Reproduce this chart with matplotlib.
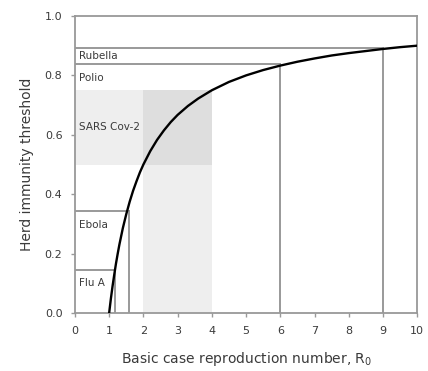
import matplotlib
matplotlib.use("Agg")
import matplotlib.pyplot as plt

# Curve
curve_r0 = [1.0, 1.05, 1.1, 1.15, 1.2, 1.25, 1.3, 1.4, 1.5, 1.6, 1.7, 1.8, 1.9, 2.0, 2.2, 2.4, 2.6,
            2.8, 3.0, 3.3, 3.6, 4.0, 4.5, 5.0, 5.5, 6.0, 6.5, 7.0, 7.5, 8.0, 8.5, 9.0, 9.5, 10.0]
curve_hit = [0.0, 0.048, 0.091, 0.13, 0.167, 0.2, 0.231, 0.286, 0.333, 0.375, 0.412, 0.444, 0.474,
             0.5, 0.545, 0.583, 0.615, 0.643, 0.667, 0.697, 0.722, 0.75, 0.778, 0.8, 0.818, 0.833,
             0.846, 0.857, 0.867, 0.875, 0.882, 0.889, 0.895, 0.9]

# Disease reference lines
diseases = ["Rubella", "Polio", "Ebola", "Flu A"]
disease_r0 = [9.0, 6.0, 1.58, 1.17]
disease_hit = [0.893, 0.837, 0.345, 0.145]
label_y = [0.865, 0.79, 0.295, 0.10]

# SARS Cov-2 range
sars_r0 = [2.0, 4.0]
sars_hit = [0.5, 0.75]

x_ticks = list(range(0, 11))
y_ticks = [0.0, 0.2, 0.4, 0.6, 0.8, 1.0]

fig = plt.figure(figsize=(4.28, 3.71), dpi=100)
ax = fig.add_axes([0.175, 0.156, 0.80, 0.801])

line_c = "#999999"
text_c = "#3a3a3a"

# shading
ax.fill_between([0, sars_r0[1]], sars_hit[0], sars_hit[1], color="black", alpha=0.065, lw=0)
ax.fill_between([sars_r0[0], sars_r0[1]], 0, sars_hit[1], color="black", alpha=0.065, lw=0)

for name, r, h, ly in zip(diseases, disease_r0, disease_hit, label_y):
    ax.plot([0, r], [h, h], color=line_c, lw=1.4, zorder=2)
    ax.plot([r, r], [0, h], color=line_c, lw=1.4, zorder=2)
    ax.text(0.12, ly, name, fontsize=7.5, color=text_c, va="center", ha="left")

ax.text(0.12, 0.627, "SARS Cov-2", fontsize=7.5, color=text_c, va="center", ha="left")

ax.plot(curve_r0, curve_hit, color="black", lw=1.7, zorder=3)

ax.set_xlim(0, 10)
ax.set_ylim(0, 1.0)
ax.set_xticks(x_ticks)
ax.set_yticks(y_ticks)
ax.set_yticklabels([f"{v:.1f}" for v in y_ticks])
for s in ax.spines.values():
    s.set_color(line_c)
    s.set_linewidth(1.3)
ax.tick_params(axis="both", direction="out", length=3, width=1, color=line_c,
               labelsize=8, labelcolor=text_c)
ax.tick_params(axis="x", pad=6)
ax.tick_params(axis="y", pad=6)
ax.set_xlabel("Basic case reproduction number, R$_0$", fontsize=10, color=text_c, labelpad=10)
ax.set_ylabel("Herd immunity threshold", fontsize=10, color=text_c, labelpad=8)

fig.savefig("out.png", dpi=100)
